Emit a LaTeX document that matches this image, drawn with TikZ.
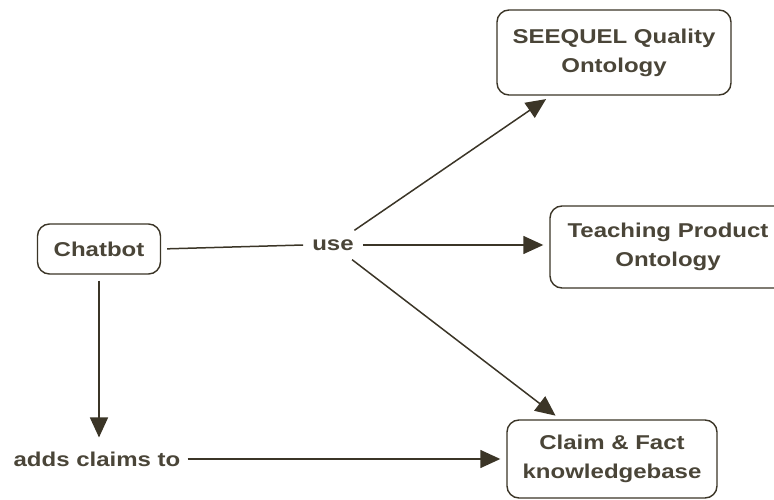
\documentclass[tikz,border=0pt]{standalone}
\usepackage{fontspec}
\usepackage{graphicx}
\setmainfont{Liberation Sans}
\usetikzlibrary{arrows.meta}
\definecolor{ink}{HTML}{3B3527}
\definecolor{txt}{HTML}{4A4538}
% slightly widened lettering
\newcommand\wtxt[1]{\scalebox{1.2}[1]{#1}}
\tikzset{
  box/.style={draw=ink, line width=1.4pt, rounded corners=12pt, fill=white,
    text=txt, align=center, font=\fontsize{20}{29}\selectfont\bfseries, inner sep=0pt},
  lbl/.style={text=txt, font=\fontsize{20}{24}\selectfont\bfseries},
  conn/.style={draw=ink, line width=1.5pt},
  arr/.style={conn, -{Triangle[length=20pt,width=18pt]}, shorten >=6pt}
}
\begin{document}
\begin{tikzpicture}[x=1pt, y=-1pt]
\useasboundingbox (0,0) rectangle (774,500);
\node[box, minimum width=234pt, minimum height=85pt] (seequel) at (614,52.5)
  {\wtxt{SEEQUEL Quality}\\\wtxt{Ontology}};
\node[box, minimum width=240pt, minimum height=82pt] (teach) at (670,247)
  {\hspace*{-4pt}\wtxt{Teaching Product}\\\hspace*{-4pt}\wtxt{Ontology}};
\node[box, minimum width=123pt, minimum height=50pt] (chat) at (99,249)
  {\wtxt{Chatbot}};
\node[box, minimum width=210pt, minimum height=78pt] (claim) at (612,459)
  {\wtxt{Claim \& Fact}\\\wtxt{knowledgebase}};
\node[lbl, inner xsep=9pt, inner ysep=9pt] (use) at (333,245) {\wtxt{use}};
\node[lbl, inner xsep=7pt, inner ysep=8pt] (adds) at (97,459) {\wtxt{adds claims to}};

\draw[conn, shorten <=6pt] (chat.east) -- (use.west);
\draw[arr] (use) -- (seequel);
\draw[arr] (use.east) -- (use.east -| teach.west);
\draw[arr] (use) -- (claim);
\draw[arr, shorten <=6pt] (chat.south) -- (chat.south |- adds.north);
\draw[arr] (adds.east) -- (claim.west);
\end{tikzpicture}
\end{document}
